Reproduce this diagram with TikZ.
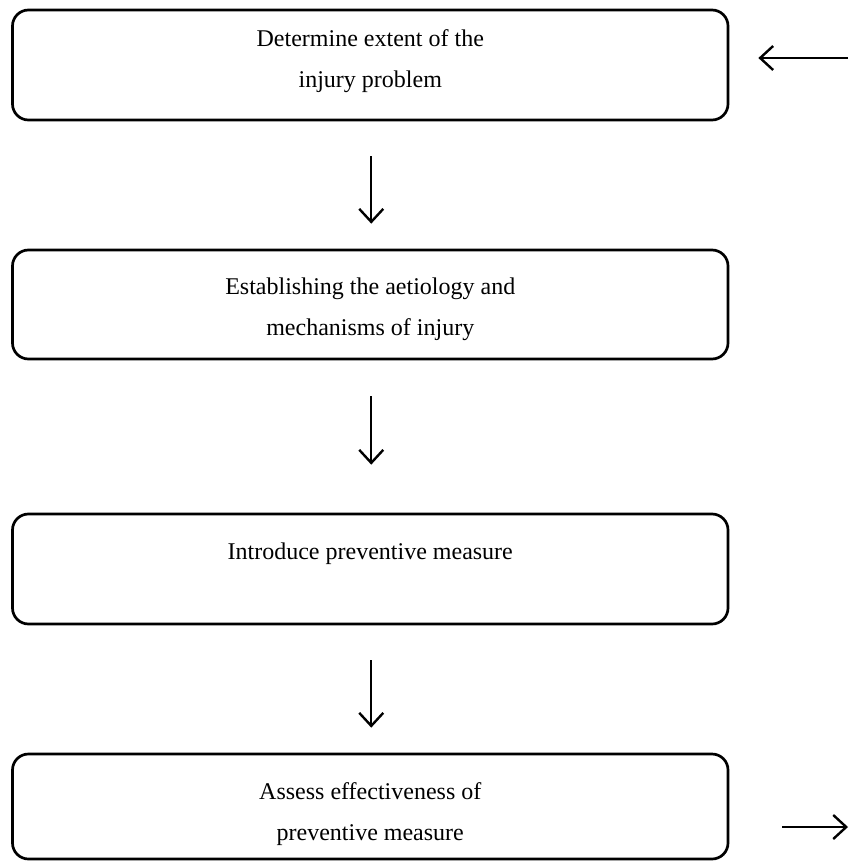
\documentclass[tikz,border=0pt]{standalone}
\usepackage{fontspec}
\setmainfont{Liberation Serif}
\usetikzlibrary{arrows.meta,calc}
\begin{document}
\begin{tikzpicture}[x=1pt,y=-1pt,
  box/.style={draw=black,line width=2.7pt,rounded corners=16pt,minimum width=715.5pt,inner sep=0pt},
  txt/.style={font=\fontsize{24}{41}\selectfont,align=center,anchor=north,inner sep=0pt},
  arr/.style={line width=2.4pt,-{Straight Barb[length=13pt,width=24pt,line width=2.4pt]}}]
\useasboundingbox (0,0) rectangle (848,861);
\fill[white] (0,0) rectangle (848,861);
\node[box,minimum height=110pt] (b1) at (370.25,65) {};
\node[box,minimum height=109pt] (b2) at (370.25,304.5) {};
\node[box,minimum height=110pt] (b3) at (370.25,569) {};
\node[box,minimum height=105pt] (b4) at (370.25,806.5) {};
\node[txt] (t1) at ($(b1.north)+(0,21)$) {Determine extent of the\\injury problem};
\node[txt] (t2) at ($(b2.north)+(0,29)$) {Establishing the aetiology and\\mechanisms of injury};
\node[txt] (t3) at ($(b3.north)+(0,30)$) {Introduce preventive measure};
\node[txt] (t4) at ($(b4.north)+(0,30)$) {Assess effectiveness of\\preventive measure};
\draw[arr] ($(b1.south)+(1,35)$) -- ($(b2.north)+(1,-25)$);
\draw[arr] ($(b2.south)+(1,36)$) -- ($(b3.north)+(1,-48)$);
\draw[arr] ($(b3.south)+(1,35)$) -- ($(b4.north)+(1,-25)$);
\coordinate (inR) at (848,58);
\coordinate (outR) at (848,827);
\draw[arr] (inR) -- ($(b1.east |- inR)+(29,0)$);
\draw[arr] ($(b4.east |- outR)+(53,0)$) -- (outR);
\end{tikzpicture}
\end{document}
